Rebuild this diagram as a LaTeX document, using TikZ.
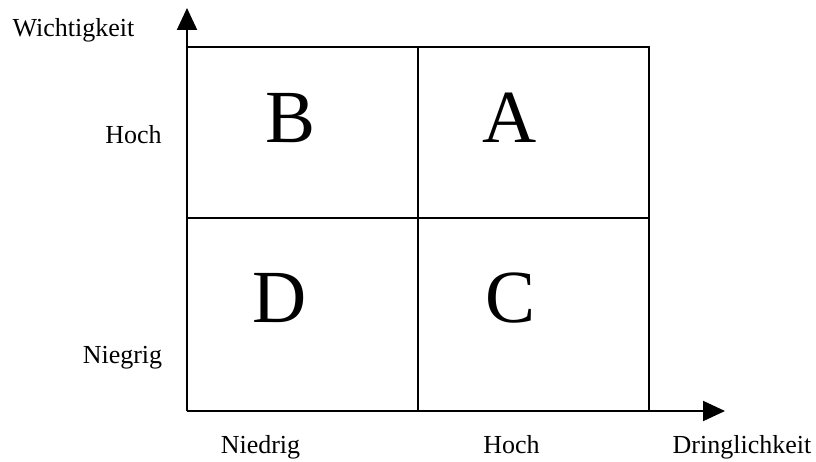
\documentclass[tikz,border=0pt]{standalone}
\usepackage{fontspec}
\setmainfont{Liberation Serif}
\usetikzlibrary{arrows.meta}
\begin{document}
\begin{tikzpicture}[x=1pt,y=-1pt,
  axis/.style={line width=2pt,-{Triangle[length=22pt,width=20pt]}},
  grid/.style={line width=2pt},
  lbl/.style={font=\fontsize{26}{30}\selectfont,inner sep=0pt,anchor=base},
  big/.style={font=\fontsize{75}{80}\selectfont,inner sep=0pt,anchor=base}]
\useasboundingbox (0,0) rectangle (816,462);
\coordinate (O) at (187,411);
\coordinate (Ytip) at (187,8);
\coordinate (Xtip) at (725,411);
\draw[grid] (187,47) -- (649,47) -- (649,411);
\draw[grid] (418,47) -- (418,411);
\draw[grid] (187,218) -- (649,218);
\draw[axis] (O) -- (Ytip);
\draw[axis] (O) -- (Xtip);
\node[lbl] (w) at (73.5,37) {Wichtigkeit};
\node[lbl] (h1) at (133.5,144) {Hoch};
\node[lbl] (n1) at (122.5,363) {Niegrig};
\node[lbl] (n2) at (260.5,453) {Niedrig};
\node[lbl] (h2) at (511.5,453) {Hoch};
\node[lbl] (d) at (742,453) {Dringlichkeit};
\node[big] (B) at (291,143) {B};
\node[big] (A) at (510,143) {A};
\node[big] (D) at (280,322) {D};
\node[big] (C) at (511,322) {C};
\end{tikzpicture}
\end{document}
